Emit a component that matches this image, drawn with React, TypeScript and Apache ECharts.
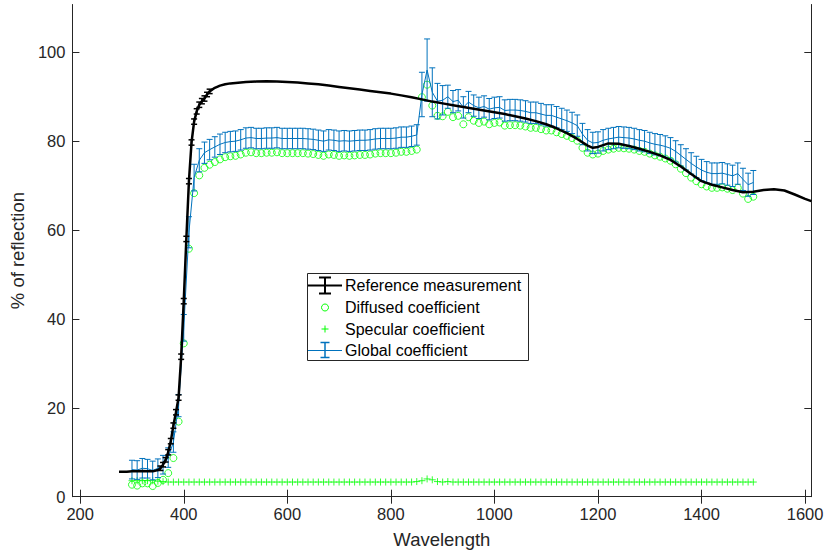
import React, { useEffect, useRef } from "react";
import * as echarts from "echarts";

const xTicks = [200, 400, 600, 800, 1000, 1200, 1400, 1600];
const yTicks = [0, 20, 40, 60, 80, 100];

const refWl = [275, 280, 290, 300, 310, 320, 330, 340, 350, 355, 360, 365, 370, 375, 380, 385, 390, 395, 400, 405, 410, 415, 420, 425, 430, 435, 440, 445, 450, 460, 470, 480, 490, 500, 520, 540, 560, 580, 600, 620, 640, 660, 680, 700, 720, 740, 760, 780, 800, 820, 840, 860, 880, 900, 920, 940, 960, 980, 1000, 1020, 1040, 1060, 1080, 1100, 1120, 1140, 1160, 1180, 1190, 1200, 1220, 1240, 1260, 1280, 1300, 1320, 1340, 1360, 1380, 1400, 1420, 1440, 1460, 1480, 1500, 1520, 1540, 1560, 1580, 1600, 1612];
const refVal = [5.6, 5.6, 5.6, 5.7, 5.7, 5.8, 5.7, 5.7, 6.0, 6.4, 7.2, 8.3, 10.0, 12.5, 16.0, 19.0, 22.3, 31.5, 44.0, 58.0, 71.0, 79.7, 84.4, 86.7, 88.2, 89.0, 89.6, 90.5, 91.2, 92.0, 92.5, 92.8, 93.0, 93.1, 93.3, 93.4, 93.5, 93.4, 93.3, 93.2, 93.0, 92.8, 92.5, 92.2, 91.9, 91.6, 91.3, 91.0, 90.7, 90.3, 89.9, 89.4, 88.9, 88.5, 88.1, 87.7, 87.3, 86.9, 86.5, 86.1, 85.6, 85.1, 84.5, 83.8, 82.9, 81.8, 80.5, 79.0, 78.5, 78.7, 79.5, 79.4, 78.9, 78.3, 77.6, 76.8, 75.8, 74.3, 72.6, 71.0, 70.2, 69.6, 69.0, 68.5, 68.6, 69.0, 69.2, 68.9, 68.0, 67.0, 66.5];
const refErr = [0, 0, 0, 0, 0, 0, 0, 0, 0, 0.5, 0.5, 0.5, 0.6, 0.6, 0.6, 0.6, 0.6, 0.6, 0.6, 0.6, 0.6, 0.6, 0.6, 0.6, 0.6, 0.6, 0.6, 0.5, 0.5, 0, 0, 0, 0, 0, 0, 0, 0, 0, 0, 0, 0, 0, 0, 0, 0, 0, 0, 0, 0, 0, 0, 0, 0, 0, 0, 0, 0, 0, 0, 0, 0, 0, 0, 0, 0, 0, 0, 0, 0, 0, 0, 0, 0, 0, 0, 0, 0, 0, 0, 0, 0, 0, 0, 0, 0, 0, 0, 0, 0, 0, 0];

const coefWl = [300, 310, 320, 330, 340, 350, 360, 370, 380, 390, 400, 410, 420, 430, 440, 450, 460, 470, 480, 490, 500, 510, 520, 530, 540, 550, 560, 570, 580, 590, 600, 610, 620, 630, 640, 650, 660, 670, 680, 690, 700, 710, 720, 730, 740, 750, 760, 770, 780, 790, 800, 810, 820, 830, 840, 850, 860, 870, 880, 890, 900, 910, 920, 930, 940, 950, 960, 970, 980, 990, 1000, 1010, 1020, 1030, 1040, 1050, 1060, 1070, 1080, 1090, 1100, 1110, 1120, 1130, 1140, 1150, 1160, 1170, 1180, 1190, 1200, 1210, 1220, 1230, 1240, 1250, 1260, 1270, 1280, 1290, 1300, 1310, 1320, 1330, 1340, 1350, 1360, 1370, 1380, 1390, 1400, 1410, 1420, 1430, 1440, 1450, 1460, 1470, 1480, 1490, 1500];

const diffused = [2.7, 2.5, 3.0, 3.0, 2.4, 3.1, 3.8, 5.3, 8.7, 16.9, 34.5, 55.8, 68.3, 72.3, 74.0, 74.7, 75.3, 75.9, 76.4, 76.6, 76.7, 77.0, 77.4, 77.5, 77.3, 77.3, 77.4, 77.4, 77.5, 77.3, 77.3, 77.3, 77.3, 77.3, 77.2, 77.1, 76.9, 76.7, 77.0, 76.9, 76.7, 76.8, 76.7, 76.8, 76.9, 76.9, 77.0, 77.2, 77.3, 77.3, 77.3, 77.4, 77.6, 77.6, 77.8, 78.1, 89.9, 92.7, 88.0, 85.7, 85.6, 86.6, 85.4, 85.7, 83.8, 85.4, 84.6, 84.1, 84.4, 83.8, 84.1, 84.2, 83.5, 83.6, 83.6, 83.5, 83.3, 83.0, 83.0, 82.7, 82.4, 82.4, 82.0, 81.6, 81.2, 80.7, 80.1, 78.5, 77.4, 77.0, 77.2, 77.8, 78.1, 78.3, 78.5, 78.4, 78.3, 78.1, 77.8, 77.6, 77.2, 76.8, 76.5, 76.1, 75.6, 74.8, 73.8, 72.8, 71.8, 71.0, 70.3, 69.8, 69.5, 69.5, 69.6, 69.3, 69.0, 69.5, 68.2, 67.0, 67.5];

const specular = [3.6, 3.6, 3.6, 3.6, 3.6, 3.5, 3.4, 3.3, 3.3, 3.3, 3.3, 3.3, 3.3, 3.3, 3.3, 3.3, 3.3, 3.3, 3.3, 3.3, 3.3, 3.3, 3.3, 3.3, 3.3, 3.3, 3.3, 3.3, 3.3, 3.3, 3.3, 3.3, 3.3, 3.3, 3.3, 3.3, 3.3, 3.3, 3.3, 3.3, 3.3, 3.3, 3.3, 3.3, 3.3, 3.3, 3.3, 3.3, 3.3, 3.3, 3.3, 3.3, 3.3, 3.3, 3.3, 3.4, 3.6, 4.0, 3.8, 3.4, 3.3, 3.4, 3.3, 3.3, 3.3, 3.3, 3.3, 3.3, 3.3, 3.3, 3.3, 3.3, 3.3, 3.3, 3.3, 3.3, 3.3, 3.3, 3.3, 3.3, 3.3, 3.3, 3.3, 3.3, 3.3, 3.3, 3.3, 3.3, 3.3, 3.3, 3.3, 3.3, 3.3, 3.3, 3.3, 3.3, 3.3, 3.3, 3.3, 3.3, 3.3, 3.3, 3.3, 3.3, 3.3, 3.3, 3.3, 3.3, 3.3, 3.3, 3.3, 3.3, 3.3, 3.3, 3.3, 3.3, 3.3, 3.3, 3.3, 3.3, 3.3];

const globalCoef = [6.1, 6.0, 6.4, 6.3, 5.9, 6.4, 7.2, 8.8, 12.3, 20.5, 38.0, 59.5, 71.8, 75.7, 77.4, 78.1, 78.7, 79.3, 79.7, 79.9, 80.0, 80.3, 80.7, 80.8, 80.6, 80.6, 80.7, 80.7, 80.8, 80.6, 80.6, 80.6, 80.6, 80.6, 80.5, 80.4, 80.2, 80.0, 80.3, 80.2, 80.0, 80.1, 80.0, 80.1, 80.2, 80.2, 80.3, 80.5, 80.6, 80.6, 80.6, 80.7, 80.9, 80.9, 81.1, 81.4, 90.5, 96.0, 91.0, 89.0, 89.2, 90.0, 88.9, 89.2, 87.6, 88.8, 88.0, 87.5, 87.8, 87.2, 87.5, 87.6, 86.9, 87.0, 87.0, 86.9, 86.7, 86.4, 86.4, 86.1, 85.8, 85.8, 85.4, 85.0, 84.6, 84.1, 83.5, 81.6, 80.2, 79.6, 79.7, 80.2, 80.5, 80.7, 80.9, 80.8, 80.7, 80.5, 80.2, 80.0, 79.6, 79.3, 79.1, 78.8, 78.4, 77.7, 76.8, 75.9, 75.0, 74.2, 73.5, 73.0, 72.7, 72.7, 72.8, 72.5, 72.2, 72.7, 71.4, 70.2, 70.7];

const globalErr = [2.1, 2.1, 2.2, 2.1, 2.1, 2.1, 2.1, 2.2, 2.3, 2.5, 3.0, 3.5, 3.0, 2.6, 2.4, 2.3, 2.3, 2.3, 2.3, 2.3, 2.3, 2.3, 2.3, 2.3, 2.3, 2.3, 2.3, 2.3, 2.3, 2.3, 2.3, 2.3, 2.3, 2.3, 2.3, 2.3, 2.3, 2.3, 2.3, 2.3, 2.3, 2.3, 2.3, 2.3, 2.3, 2.3, 2.3, 2.3, 2.3, 2.3, 2.3, 2.3, 2.3, 2.3, 2.3, 2.3, 5.0, 7.0, 5.5, 4.0, 3.3, 2.6, 2.5, 2.4, 2.4, 2.4, 2.4, 2.4, 2.4, 2.4, 2.4, 2.4, 2.4, 2.4, 2.4, 2.4, 2.4, 2.4, 2.4, 2.4, 2.4, 2.4, 2.4, 2.4, 2.4, 2.4, 2.4, 2.4, 2.4, 2.4, 2.4, 2.4, 2.4, 2.4, 2.4, 2.4, 2.4, 2.4, 2.4, 2.4, 2.4, 2.4, 2.4, 2.4, 2.4, 2.4, 2.4, 2.4, 2.4, 2.4, 2.4, 2.4, 2.4, 2.4, 2.4, 2.4, 2.4, 2.4, 2.5, 2.6, 2.7];

const legendNames = ["Reference measurement", "Diffused coefficient", "Specular coefficient", "Global coefficient"];

const FONT = "'Liberation Sans', Arial, Helvetica, sans-serif";
const AXIS_COLOR = "#262626";
const BLUE = "#0072BD";
const GREEN = "#00FF00";

function errorBarRenderer(color: string, capW: number, lw: number) {
  return (params: any, api: any) => {
    const x = api.value(0);
    const lo = api.value(2);
    const hi = api.value(3);
    const top = api.coord([x, hi]);
    const bot = api.coord([x, lo]);
    const hw = capW / 2;
    const style = { stroke: color, lineWidth: lw, fill: "none" };
    return {
      type: "group",
      children: [
        { type: "line", shape: { x1: top[0], y1: top[1], x2: bot[0], y2: bot[1] }, style },
        { type: "line", shape: { x1: top[0] - hw, y1: top[1], x2: top[0] + hw, y2: top[1] }, style },
        { type: "line", shape: { x1: bot[0] - hw, y1: bot[1], x2: bot[0] + hw, y2: bot[1] }, style },
      ],
    };
  };
}

export default function App() {
  const ref = useRef<HTMLDivElement>(null);
  useEffect(() => {
    if (!ref.current) return;
    const chart = echarts.init(ref.current, null, { renderer: "svg" });

    const refLine = refWl.map((w, i) => [w, refVal[i]]);
    const refBars = refWl
      .map((w, i) => [w, refVal[i], refVal[i] - refErr[i], refVal[i] + refErr[i]])
      .filter((_, i) => refErr[i] > 0);
    const diffData = coefWl.map((w, i) => [w, diffused[i]]);
    const specData = coefWl.map((w, i) => [w, specular[i]]);
    const globLine = coefWl.map((w, i) => [w, globalCoef[i]]);
    const globBars = coefWl.map((w, i) => [w, globalCoef[i], globalCoef[i] - globalErr[i], globalCoef[i] + globalErr[i]]);

    const axisLineStyle = { color: AXIS_COLOR, width: 1 };
    const xMin = 185;
    const xMax = 1612;
    const yMin = 0;
    const yMax = 110.75;

    const ly = [285.5, 307.5, 329, 350.5];
    const lx0 = 308;
    const lx1 = 342;
    const lcx = 325;
    const plain = (v: number) => String(v);

    chart.setOption({
      animation: false,
      backgroundColor: "#ffffff",
      textStyle: { fontFamily: FONT },
      grid: { left: 70, right: 15.7, top: 4.5, bottom: 58.3, containLabel: false },
      xAxis: [
        {
          type: "value",
          min: xMin,
          max: xMax,
          position: "bottom",
          name: "Wavelength",
          nameLocation: "middle",
          nameGap: 33,
          nameTextStyle: { fontSize: 18.5, color: AXIS_COLOR, fontFamily: FONT },
          axisLine: { show: true, lineStyle: axisLineStyle },
          axisTick: { show: true, inside: true, length: 7, customValues: xTicks, lineStyle: axisLineStyle },
          axisLabel: { show: true, customValues: xTicks, formatter: plain, margin: 9, fontSize: 16.5, color: AXIS_COLOR, fontFamily: FONT },
          splitLine: { show: false },
        },
        {
          type: "value",
          min: xMin,
          max: xMax,
          position: "top",
          axisLine: { show: true, lineStyle: axisLineStyle },
          axisTick: { show: true, inside: true, length: 7, customValues: xTicks, lineStyle: axisLineStyle },
          axisLabel: { show: false },
          splitLine: { show: false },
        },
      ],
      yAxis: [
        {
          type: "value",
          min: yMin,
          max: yMax,
          position: "left",
          name: "% of reflection",
          nameLocation: "middle",
          nameGap: 40,
          nameTextStyle: { fontSize: 18.5, color: AXIS_COLOR, fontFamily: FONT },
          axisLine: { show: true, lineStyle: axisLineStyle },
          axisTick: { show: true, inside: true, length: 7, customValues: yTicks, lineStyle: axisLineStyle },
          axisLabel: { show: true, customValues: yTicks, formatter: plain, margin: 7, fontSize: 16.5, color: AXIS_COLOR, fontFamily: FONT },
          splitLine: { show: false },
        },
        {
          type: "value",
          min: yMin,
          max: yMax,
          position: "right",
          axisLine: { show: true, lineStyle: axisLineStyle },
          axisTick: { show: true, inside: true, length: 7, customValues: yTicks, lineStyle: axisLineStyle },
          axisLabel: { show: false },
          splitLine: { show: false },
        },
      ],
      series: [
        {
          name: legendNames[1],
          type: "scatter",
          data: diffData,
          symbol: "circle",
          symbolSize: 7,
          itemStyle: { color: "rgba(0,0,0,0)", borderColor: GREEN, borderWidth: 1 },
          z: 2,
        },
        {
          name: legendNames[2],
          type: "scatter",
          data: specData,
          symbol: "path://M5,0 L5,10 M0,5 L10,5",
          symbolSize: 7,
          itemStyle: { color: "rgba(0,0,0,0)", borderColor: GREEN, borderWidth: 1 },
          z: 2,
        },
        {
          name: legendNames[3] + " bars",
          type: "custom",
          renderItem: errorBarRenderer(BLUE, 6, 1),
          data: globBars,
          encode: { x: 0, y: [2, 3] },
          z: 3,
        },
        {
          name: legendNames[3],
          type: "line",
          data: globLine,
          showSymbol: false,
          symbol: "none",
          lineStyle: { color: BLUE, width: 1 },
          z: 3,
        },
        {
          name: legendNames[0],
          type: "line",
          data: refLine,
          showSymbol: false,
          symbol: "none",
          lineStyle: { color: "#000000", width: 2.5 },
          z: 4,
        },
        {
          name: legendNames[0] + " bars",
          type: "custom",
          renderItem: errorBarRenderer("#000000", 6, 1.5),
          data: refBars,
          encode: { x: 0, y: [2, 3] },
          z: 5,
        },
      ],
      graphic: [
        {
          type: "group",
          z: 100,
          children: [
            { type: "rect", shape: { x: 307.5, y: 273.5, width: 221, height: 87 }, style: { fill: "#ffffff", stroke: AXIS_COLOR, lineWidth: 1 } },
            { type: "line", shape: { x1: lx0, y1: ly[0], x2: lx1, y2: ly[0] }, style: { stroke: "#000", lineWidth: 2 } },
            { type: "line", shape: { x1: lcx, y1: ly[0] - 8, x2: lcx, y2: ly[0] + 8 }, style: { stroke: "#000", lineWidth: 2 } },
            { type: "line", shape: { x1: lcx - 6, y1: ly[0] - 8, x2: lcx + 6, y2: ly[0] - 8 }, style: { stroke: "#000", lineWidth: 2 } },
            { type: "line", shape: { x1: lcx - 6, y1: ly[0] + 8, x2: lcx + 6, y2: ly[0] + 8 }, style: { stroke: "#000", lineWidth: 2 } },
            { type: "text", x: 345, y: ly[0], style: { text: legendNames[0], fontSize: 16, fontFamily: FONT, fill: "#000", verticalAlign: "middle", align: "left" } },
            { type: "circle", shape: { cx: lcx, cy: ly[1], r: 3.5 }, style: { fill: "none", stroke: GREEN, lineWidth: 1 } },
            { type: "text", x: 345, y: ly[1], style: { text: legendNames[1], fontSize: 16, fontFamily: FONT, fill: "#000", verticalAlign: "middle", align: "left" } },
            { type: "line", shape: { x1: lcx - 3.5, y1: ly[2], x2: lcx + 3.5, y2: ly[2] }, style: { stroke: GREEN, lineWidth: 1 } },
            { type: "line", shape: { x1: lcx, y1: ly[2] - 3.5, x2: lcx, y2: ly[2] + 3.5 }, style: { stroke: GREEN, lineWidth: 1 } },
            { type: "text", x: 345, y: ly[2], style: { text: legendNames[2], fontSize: 16, fontFamily: FONT, fill: "#000", verticalAlign: "middle", align: "left" } },
            { type: "line", shape: { x1: lx0, y1: ly[3], x2: lx1, y2: ly[3] }, style: { stroke: BLUE, lineWidth: 1 } },
            { type: "line", shape: { x1: lcx, y1: ly[3] - 8, x2: lcx, y2: ly[3] + 7 }, style: { stroke: BLUE, lineWidth: 1.5 } },
            { type: "line", shape: { x1: lcx - 4.5, y1: ly[3] - 8, x2: lcx + 4.5, y2: ly[3] - 8 }, style: { stroke: BLUE, lineWidth: 1.5 } },
            { type: "line", shape: { x1: lcx - 4.5, y1: ly[3] + 7, x2: lcx + 4.5, y2: ly[3] + 7 }, style: { stroke: BLUE, lineWidth: 1.5 } },
            { type: "text", x: 345, y: ly[3], style: { text: legendNames[3], fontSize: 16, fontFamily: FONT, fill: "#000", verticalAlign: "middle", align: "left" } },
          ],
        },
      ],
    });

    return () => {
      chart.dispose();
    };
  }, []);

  return (
    <div
      ref={ref}
      style={{ position: "fixed", left: 0, top: 0, width: 827, height: 555, background: "#fff" }}
    />
  );
}
